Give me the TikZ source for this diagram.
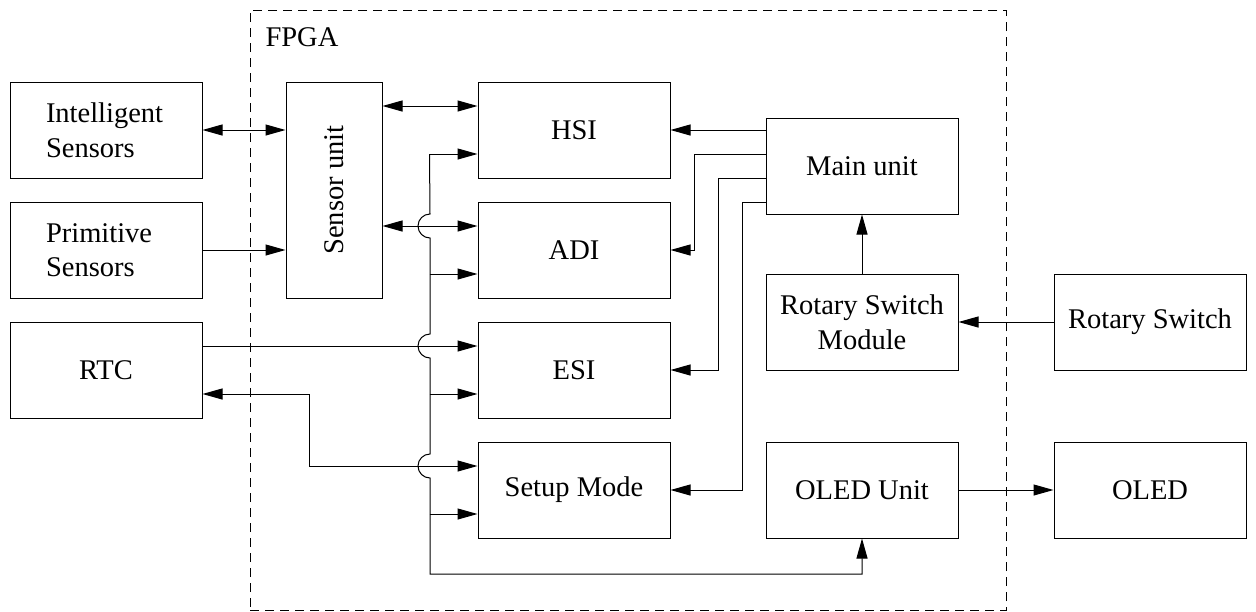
\documentclass[tikz,border=0pt]{standalone}
\usepackage{fontspec}
\setmainfont{Liberation Serif}
\usetikzlibrary{arrows.meta,calc}
\tikzset{
  block/.style={draw, minimum width=192pt, minimum height=96pt, inner sep=0pt,
                align=center, font=\fontsize{28.5}{34.5}\selectfont},
  lblock/.style={block, text width=120pt, align=left},
  tallblock/.style={draw, minimum width=96pt, minimum height=216pt, inner sep=0pt,
                font=\fontsize{28.5}{34.5}\selectfont},
  chip/.style={draw, dash pattern=on 9pt off 6pt, minimum width=756pt,
                minimum height=600pt, inner sep=0pt},
  wire/.style={-{Triangle[length=20pt,width=11pt]}},
  bwire/.style={{Triangle[length=20pt,width=11pt]}-{Triangle[length=20pt,width=11pt]}}
}
\begin{document}
\begin{tikzpicture}[x=1pt, y=-1pt, line width=1pt]
\useasboundingbox (0,0) rectangle (1256,611);

% FPGA boundary
\node[chip] (fpga) at (628,310) {};
\node[anchor=base west, inner sep=0pt, font=\fontsize{28.5}{34.5}\selectfont] (fpgalbl) at (265,46) {FPGA};

% external blocks
\node[lblock] (intel) at (106,130) {Intelligent\\Sensors};
\node[lblock] (prim)  at (106,250) {Primitive\\Sensors};
\node[block]  (rtc)   at (106,370) {RTC};
\node[block]  (rs)    at (1150,322) {Rotary Switch};
\node[block]  (oled)  at (1150,490) {OLED};

% blocks inside the FPGA
\node[tallblock] (sensor) at (334,190) {\rotatebox{90}{Sensor unit}};
\node[block] (hsi)   at (574,130) {HSI};
\node[block] (adi)   at (574,250) {ADI};
\node[block] (esi)   at (574,370) {ESI};
\node[block] (setup) at (574,490) {Setup Mode};
\node[block] (main)  at (862,166) {Main unit};
\node[block] (rsm)   at (862,322) {Rotary Switch\\Module};
\node[block] (oledu) at (862,490) {OLED Unit};

% sensor connections
\draw[bwire] (intel.east) -- (sensor.west |- intel.east);
\draw[wire]  (prim.east) -- (sensor.west |- prim.east);
\draw[bwire] (sensor.east |- {$(hsi.west)+(0,-24)$}) -- ($(hsi.west)+(0,-24)$);
\draw[bwire] (sensor.east |- {$(adi.west)+(0,-24)$}) -- ($(adi.west)+(0,-24)$);

% RTC connections
\draw[wire]  ($(rtc.east)+(0,-24)$) -- ($(esi.west)+(0,-24)$);
\draw[bwire] ($(rtc.east)+(0,24)$) -| ($(setup.west)+(-168,-24)$) -- ($(setup.west)+(0,-24)$);

% distribution bus with hops over the crossing lines
\coordinate (bt) at ($(hsi.west)+(-48,24)$);
\draw[wire] (bt) -- (hsi.west |- bt);
\draw[wire] (bt) -- (430,214) arc[start angle=90, end angle=270, radius=12pt]
  -- (430,334) arc[start angle=90, end angle=270, radius=12pt]
  -- (430,454) arc[start angle=90, end angle=270, radius=12pt]
  -- (430,574) -| (oledu.south);
\draw[wire] ($(adi.west)+(-48,24)$) -- ($(adi.west)+(0,24)$);
\draw[wire] ($(esi.west)+(-48,24)$) -- ($(esi.west)+(0,24)$);
\draw[wire] ($(setup.west)+(-48,24)$) -- ($(setup.west)+(0,24)$);

% main unit outputs
\draw[wire] (main.west |- hsi.east) -- (hsi.east);
\draw[wire] ($(main.west)+(0,-12)$) -| ($(adi.east)+(24,0)$) -- (adi.east);
\draw[wire] ($(main.west)+(0,12)$) -| ($(esi.east)+(48,0)$) -- (esi.east);
\draw[wire] ($(main.west)+(0,36)$) -| ($(setup.east)+(72,0)$) -- (setup.east);

% switch and display
\draw[wire] (rsm.north) -- (main.south);
\draw[wire] (rs.west) -- (rsm.east);
\draw[wire] (oledu.east) -- (oled.west);
\end{tikzpicture}
\end{document}
